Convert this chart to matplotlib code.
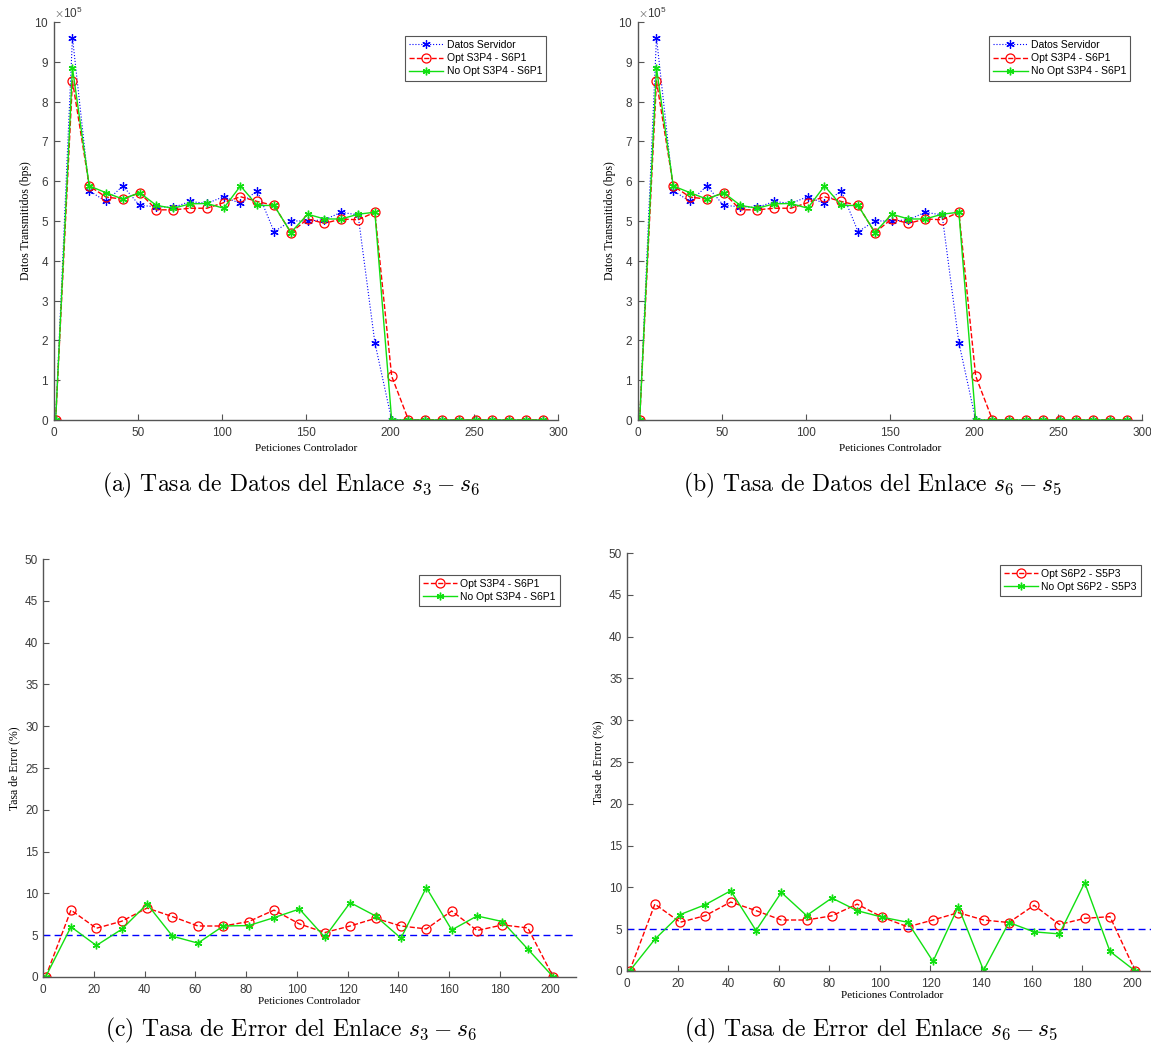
import matplotlib
matplotlib.use("Agg")
import matplotlib.pyplot as plt
from matplotlib.ticker import ScalarFormatter

plt.rcParams['mathtext.fontset'] = 'cm'
plt.rcParams['axes.unicode_minus'] = False

# --- data ---
peticiones_datos = [1, 11, 21, 31, 41, 51, 61, 71, 81, 91, 101, 111, 121, 131, 141,
                    151, 161, 171, 181, 191, 201, 211, 221, 231, 241, 251, 261, 271, 281, 291]
datos_servidor = [0, 961000, 576000, 549000, 588000, 539000, 536000, 534000, 549000, 544000,
                  561000, 544000, 576000, 473000, 500000, 500000, 503000, 522000, 515000, 194000,
                  0, 0, 0, 0, 0, 0, 0, 0, 0, 0]
datos_opt = [0, 852000, 588000, 560000, 555000, 571000, 528000, 528000, 532000, 532000,
             546000, 561000, 549000, 539000, 471000, 505000, 494000, 505000, 503000, 522000,
             110000, 0, 0, 0, 0, 0, 0, 0, 0, 0]
datos_noopt = [0, 884000, 588000, 571000, 555000, 571000, 539000, 532000, 543000, 544000,
               532000, 588000, 539000, 539000, 471000, 517000, 505000, 505000, 517000, 522000,
               0, 0, 0, 0, 0, 0, 0, 0, 0, 0]

peticiones_error = [1, 11, 21, 31, 41, 51, 61, 71, 81, 91, 101, 111, 121, 131, 141,
                    151, 161, 171, 181, 191, 201]
error_opt_s3s6 = [0, 8.0, 5.83, 6.67, 8.25, 7.22, 6.1, 6.1, 6.63, 8.0, 6.35,
                  5.32, 6.1, 7.02, 6.1, 5.75, 7.9, 5.56, 6.23, 5.87, 0]
error_noopt_s3s6 = [0, 6.0, 3.77, 5.71, 8.73, 4.88, 4.05, 6.1, 6.15, 7.1, 8.13,
                    4.76, 8.9, 7.3, 4.64, 10.7, 5.63, 7.3, 6.63, 3.33, 0]
error_opt_s6s5 = [0, 8.0, 5.83, 6.63, 8.25, 7.22, 6.1, 6.1, 6.6, 8.0, 6.43,
                  5.28, 6.1, 6.98, 6.1, 5.8, 7.86, 5.56, 6.3, 6.5, 0]
error_noopt_s6s5 = [0, 3.8, 6.75, 7.94, 9.6, 4.84, 9.4, 6.63, 8.73, 7.22, 6.43,
                    5.83, 1.15, 7.7, 0.08, 5.8, 4.68, 4.44, 10.56, 2.34, 0]
umbral_error = 5

GRIS = '#555555'
VERDE = '#11e011'
ASTER = (6, 2, 0)
TICK_FONT = 'Liberation Sans'
LABEL_FONT = 'Liberation Serif'


def estilo_ejes(ax):
    ax.spines['top'].set_visible(False)
    ax.spines['right'].set_visible(False)
    for s in ('left', 'bottom'):
        ax.spines[s].set_color(GRIS)
        ax.spines[s].set_linewidth(1.0)
    ax.tick_params(direction='in', length=4, color=GRIS, labelcolor='#3a3a3a',
                   labelsize=8.5, width=0.8)
    ax.tick_params(axis='x', pad=5)
    for lbl in ax.get_xticklabels() + ax.get_yticklabels():
        lbl.set_fontfamily(TICK_FONT)


def leyenda(ax, anchor):
    leg = ax.legend(loc='upper left', bbox_to_anchor=anchor,
                    handlelength=3.3, borderpad=0.4, labelspacing=0.3,
                    handletextpad=0.3, fancybox=False, framealpha=1,
                    prop={'family': TICK_FONT, 'size': 7.5})
    leg.get_frame().set_edgecolor(GRIS)
    leg.get_frame().set_linewidth(0.8)


def grafico_datos(ax, leyendas):
    ax.plot(peticiones_datos, datos_servidor, ':', color='blue', lw=0.8,
            marker=ASTER, ms=6, mew=0.9, label=leyendas[0])
    ax.plot(peticiones_datos, datos_opt, '--', color='red', lw=1.0,
            marker='o', ms=6.5, mfc='none', mew=0.9, label=leyendas[1])
    ax.plot(peticiones_datos, datos_noopt, '-', color=VERDE, lw=1.0,
            marker=ASTER, ms=5.5, mew=1.0, label=leyendas[2])
    ax.set_xlim(0, 300)
    ax.set_ylim(0, 1000000)
    ax.set_xticks([0, 50, 100, 150, 200, 250, 300])
    ax.set_yticks([0, 100000, 200000, 300000, 400000, 500000, 600000, 700000,
                   800000, 900000, 1000000])
    fmt = ScalarFormatter(useMathText=True)
    fmt.set_powerlimits((5, 5))
    ax.yaxis.set_major_formatter(fmt)
    off = ax.yaxis.get_offset_text()
    off.set_fontsize(8.5)
    off.set_color('#3a3a3a')
    off.set_fontfamily(TICK_FONT)
    ax.set_xlabel('Peticiones Controlador', fontsize=8, fontfamily=LABEL_FONT, labelpad=4)
    ax.set_ylabel('Datos Transmitidos (bps)', fontsize=8.5, fontfamily=LABEL_FONT, labelpad=2)
    estilo_ejes(ax)
    leyenda(ax, (0.686, 0.978))


def grafico_error(ax, opt, noopt, leyendas, anchor):
    ax.axhline(umbral_error, color='blue', ls='--', lw=1.0, dashes=(5, 3))
    ax.plot(peticiones_error, opt, '--', color='red', lw=1.0,
            marker='o', ms=6.5, mfc='none', mew=0.9, label=leyendas[0])
    ax.plot(peticiones_error, noopt, '-', color=VERDE, lw=1.0,
            marker=ASTER, ms=5.5, mew=1.0, label=leyendas[1])
    ax.set_xlim(0, 210)
    ax.set_ylim(0, 50)
    ax.set_xticks([0, 20, 40, 60, 80, 100, 120, 140, 160, 180, 200])
    ax.set_yticks([0, 5, 10, 15, 20, 25, 30, 35, 40, 45, 50])
    ax.set_xlabel('Peticiones Controlador', fontsize=8, fontfamily=LABEL_FONT, labelpad=1)
    ax.set_ylabel('Tasa de Error (%)', fontsize=8.5, fontfamily=LABEL_FONT, labelpad=3)
    estilo_ejes(ax)
    leyenda(ax, anchor)


fig = plt.figure(figsize=(11.51, 10.52), dpi=100)

ax_a = fig.add_axes([0.0469, 0.6008, 0.4379, 0.3783])
ax_b = fig.add_axes([0.5543, 0.6008, 0.4379, 0.3783])
ax_c = fig.add_axes([0.0374, 0.0713, 0.4631, 0.3973])
ax_d = fig.add_axes([0.5448, 0.0770, 0.4613, 0.3973])

grafico_datos(ax_a, ['Datos Servidor', 'Opt S3P4 - S6P1', 'No Opt S3P4 - S6P1'])
grafico_datos(ax_b, ['Datos Servidor', 'Opt S3P4 - S6P1', 'No Opt S3P4 - S6P1'])
grafico_error(ax_c, error_opt_s3s6, error_noopt_s3s6,
              ['Opt S3P4 - S6P1', 'No Opt S3P4 - S6P1'], (0.695, 0.975))
grafico_error(ax_d, error_opt_s6s5, error_noopt_s6s5,
              ['Opt S6P2 - S5P3', 'No Opt S6P2 - S5P3'], (0.692, 0.985))

captions = [
    (291, 485, r'(a) Tasa de Datos del Enlace $s_3 - s_6$'),
    (872, 485, r'(b) Tasa de Datos del Enlace $s_6 - s_5$'),
    (291, 1030, r'(c) Tasa de Error del Enlace $s_3 - s_6$'),
    (871, 1030, r'(d) Tasa de Error del Enlace $s_6 - s_5$'),
]
for px, py, txt in captions:
    fig.text(px / 1151, 1 - py / 1052, txt, ha='center', va='center',
             fontsize=17, fontfamily='cmr10')

fig.savefig('out.png', dpi=100)
